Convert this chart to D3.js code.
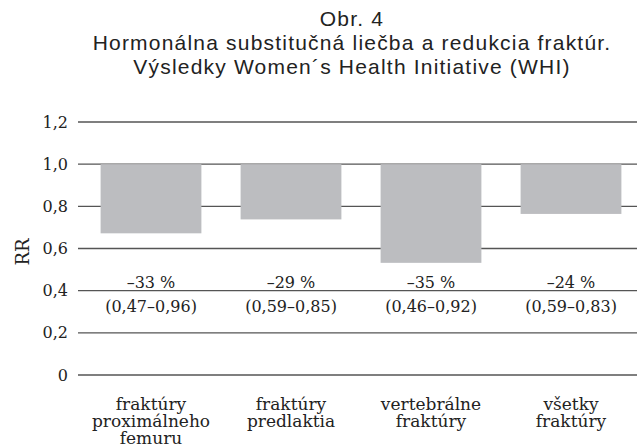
<!DOCTYPE html>
<html>
<head>
<meta charset="utf-8">
<script src="https://cdn.jsdelivr.net/npm/d3@7"></script>
<style>
  body { margin: 0; background: #fff; }
  svg { display: block; }
</style>
</head>
<body>
<div id="chart"></div>
<script>
// data
var titleLines = ["Obr. 4", "Hormonálna substitučná liečba a redukcia fraktúr.", "Výsledky Women´s Health Initiative (WHI)"];
var categories = [
  ["fraktúry", "proximálneho", "femuru"],
  ["fraktúry", "predlaktia"],
  ["vertebrálne", "fraktúry"],
  ["všetky", "fraktúry"]
];
var rr = [0.672, 0.738, 0.532, 0.764];
var reduction = ["–33 %", "–29 %", "–35 %", "–24 %"];
var ci = ["(0,47–0,96)", "(0,59–0,85)", "(0,46–0,92)", "(0,59–0,83)"];
var yTicks = [0, 0.2, 0.4, 0.6, 0.8, 1.0, 1.2];
var baseline = 1.0;

var width = 637, height = 447;
var serif = "'DejaVu Serif', serif";

var svg = d3.select("#chart").append("svg")
  .attr("width", width)
  .attr("height", height);

// title
svg.selectAll(".title")
  .data(titleLines)
  .enter().append("text")
  .attr("class", "title")
  .attr("x", 352)
  .attr("y", function(d, i) { return 26 + i * 24; })
  .attr("text-anchor", "middle")
  .style("font-family", "'Liberation Sans', Arial, sans-serif")
  .style("font-size", "21px")
  .style("letter-spacing", "1.2px")
  .style("fill", "#222")
  .text(String);

var y = d3.scaleLinear().domain([0, 1.2]).range([375, 122]);
var x = d3.scaleBand()
  .domain(d3.range(categories.length))
  .range([81, 641])
  .paddingInner(0.28)
  .paddingOuter(0.14);

// gridlines
svg.selectAll(".grid")
  .data(yTicks)
  .enter().append("line")
  .attr("x1", 78)
  .attr("x2", width)
  .attr("y1", function(d) { return y(d); })
  .attr("y2", function(d) { return y(d); })
  .attr("stroke", "#555")
  .attr("stroke-width", 1.3);

// tick labels
svg.selectAll(".tick")
  .data(yTicks)
  .enter().append("text")
  .attr("x", 68)
  .attr("y", function(d) { return y(d); })
  .attr("dy", "0.35em")
  .attr("text-anchor", "end")
  .style("font-family", serif)
  .style("font-size", "16px")
  .style("fill", "#222")
  .text(function(d) { return d === 0 ? "0" : d3.format(".1f")(d).replace(".", ","); });

// y title
svg.append("text")
  .attr("transform", "translate(29,252) rotate(-90)")
  .attr("text-anchor", "middle")
  .style("font-family", serif)
  .style("font-size", "18px")
  .style("fill", "#222")
  .text("RR");

// bars hanging from 1.0
svg.selectAll(".bar")
  .data(rr)
  .enter().append("rect")
  .attr("x", function(d, i) { return x(i); })
  .attr("y", y(baseline))
  .attr("width", x.bandwidth())
  .attr("height", function(d) { return y(d) - y(baseline); })
  .attr("fill", "#bcbdc0");

// value labels
var lab = svg.selectAll(".lab")
  .data(rr)
  .enter().append("g")
  .attr("transform", function(d, i) { return "translate(" + (x(i) + x.bandwidth() / 2) + ",0)"; });

lab.append("text")
  .attr("y", 288)
  .attr("text-anchor", "middle")
  .style("font-family", serif)
  .style("font-size", "16px")
  .style("fill", "#222")
  .text(function(d, i) { return reduction[i]; });

lab.append("text")
  .attr("y", 312)
  .attr("text-anchor", "middle")
  .style("font-family", serif)
  .style("font-size", "16px")
  .style("fill", "#222")
  .text(function(d, i) { return ci[i]; });

// category labels
var cat = svg.selectAll(".cat")
  .data(categories)
  .enter().append("text")
  .attr("text-anchor", "middle")
  .style("font-family", serif)
  .style("font-size", "17px")
  .style("fill", "#222");

cat.selectAll("tspan")
  .data(function(d, i) { return d.map(function(s) { return {s: s, i: i}; }); })
  .enter().append("tspan")
  .attr("x", function(d) { return x(d.i) + x.bandwidth() / 2; })
  .attr("y", function(d, j) { return 410 + j * 17; })
  .text(function(d) { return d.s; });
</script>
</body>
</html>
